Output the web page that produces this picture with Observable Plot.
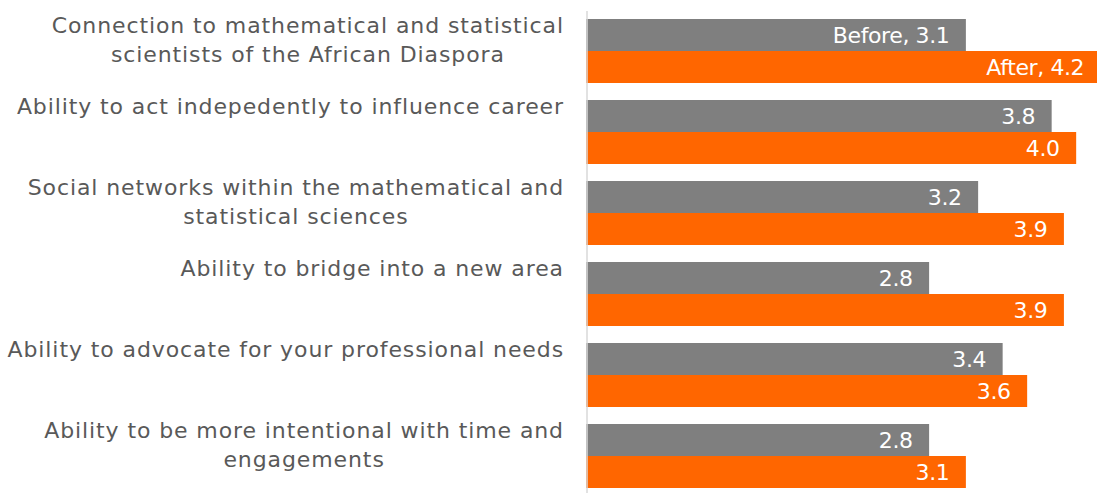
<!DOCTYPE html>
<html>
<head>
<meta charset="utf-8">
<script src="https://cdn.jsdelivr.net/npm/d3@7"></script>
<script src="https://cdn.jsdelivr.net/npm/@observablehq/plot@0.6"></script>
<style>
  html, body { margin: 0; padding: 0; background: #fff; }
  #chart { width: 1097px; height: 493px; overflow: hidden; }
  g[fill="#595959"] text { letter-spacing: 0.9px; }
  g[fill="white"] text { letter-spacing: -0.4px; }
</style>
</head>
<body>
<div id="chart"></div>
<script>
// Categories (line breaks as in the reference)
const categories = [
  "Connection to mathematical and statistical\nscientists of the African Diaspora",
  "Ability to act indepedently to influence career",
  "Social networks within the mathematical and\nstatistical sciences",
  "Ability to bridge into a new area",
  "Ability to advocate for your professional needs",
  "Ability to be more intentional with time and\nengagements"
];
const series = ["Before", "After"];
const beforeValues = [3.1, 3.8, 3.2, 2.8, 3.4, 2.8];
const afterValues  = [4.2, 4.0, 3.9, 3.9, 3.6, 3.1];
const seriesColors = ["#7f7f7f", "#ff6600"];

// Build the table the library needs
const rows = [];
categories.forEach((c, i) => {
  rows.push({category: c, series: "Before", value: beforeValues[i],
             label: (i === 0 ? "Before, " : "") + beforeValues[i].toFixed(1)});
  rows.push({category: c, series: "After", value: afterValues[i],
             label: (i === 0 ? "After, " : "") + afterValues[i].toFixed(1)});
});

const chart = Plot.plot({
  width: 1097,
  height: 493,
  marginLeft: 586,
  marginRight: 0,
  marginTop: 18,
  marginBottom: 4,
  style: {fontFamily: "DejaVu Sans", background: "#fff", overflow: "hidden"},
  x: {domain: [0, 4.17], axis: null},
  y: {domain: series, padding: 0, axis: null},
  fy: {domain: categories, paddingInner: 0.206, paddingOuter: 0, axis: null},
  color: {domain: series, range: seriesColors},
  marks: [
    Plot.barX(rows, {x: "value", y: "series", fy: "category", fill: "series"}),
    Plot.ruleX([0], {stroke: "#d9d9d9", strokeWidth: 1.5, dx: 0.5, insetTop: -8, insetBottom: -9}),
    Plot.text(rows, {
      x: "value", y: "series", fy: "category", text: "label",
      textAnchor: "end", dx: -17, fill: "white", fontSize: 22
    }),
    Plot.text(categories, {
      fy: d => d, text: d => d,
      frameAnchor: "top-left", textAnchor: "end", lineAnchor: "top",
      dx: -22.5, dy: -7.5, fill: "#595959", fontSize: 22, lineHeight: 1.33
    })
  ]
});

document.getElementById("chart").appendChild(chart);

// Centre the lines of wrapped labels within their right-aligned block
d3.select(chart).selectAll('g[fill="#595959"] text').each(function() {
  const tspans = d3.select(this).selectAll("tspan");
  if (tspans.size() < 2) return;
  let maxW = 0;
  tspans.each(function() { maxW = Math.max(maxW, this.getComputedTextLength()); });
  d3.select(this).attr("text-anchor", "middle");
  tspans.attr("x", -maxW / 2);
});
</script>
</body>
</html>
